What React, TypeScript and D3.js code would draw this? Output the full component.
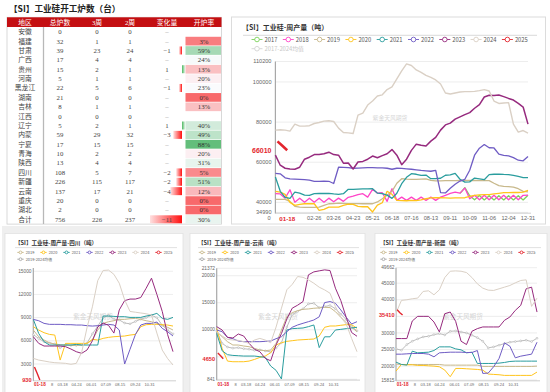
import React, { useRef, useEffect } from 'react';
import * as d3 from 'd3';

// ---------- table: 工业硅开工炉数 ----------
const regions = ['安徽', '福建', '甘肃', '广西', '贵州', '河南', '黑龙江', '湖南', '吉林', '江西', '辽宁', '内蒙', '宁夏', '青海', '陕西', '四川', '新疆', '云南', '重庆', '湖北', '合计'];
const totalFurnaces = [0, 32, 39, 17, 15, 5, 22, 21, 8, 0, 5, 59, 17, 10, 13, 108, 226, 137, 20, 2, 756];
const openWeek3 = [0, 1, 23, 4, 2, 1, 5, 0, 1, 0, 2, 29, 15, 2, 4, 5, 115, 17, 0, 0, 226];
const openWeek2 = [0, 1, 24, 4, 1, 1, 6, 0, 1, 0, 1, 32, 15, 2, 4, 7, 117, 21, 0, 0, 237];
const changes = [0, 0, -1, 0, 1, 0, -1, 0, 0, 0, 1, -3, 0, 0, 0, -2, -2, -4, 0, 0, -11];
const openRates = [null, 3, 59, 24, 13, 20, 23, 0, 13, null, 40, 49, 88, 20, 31, 5, 51, 12, 0, 0, 30];
const tableHeaders = ['地区', '总炉数', '3周', '2周', '变化量', '开炉率'];

// ---------- main chart: 周产量 (weekly, week 0..52) ----------
const mainYears = ['2017', '2018', '2019', '2020', '2021', '2022', '2023', '2024', '2025'];
const main2017Start = 38;
const main2017 = [44500, 47300, 43300, 41300, 43400, 41200, 43300, 41200, 43300, 41200, 43300, 41200, 43300, 41200, 43500];
const main2018 = [44300, 44200, 42100, 46300, 40100, 42100, 40100, 42100, 40100, 42100,
  40100, 42100, 40300, 42100, 40500, 42500, 43100, 43800, 44300, 42600,
  46500, 44600, 44800, 40500, 46800, 41000, 42600, 41000, 42600, 41000,
  42600, 41000, 42600, 41000, 42600, 43500, 44500, 45100, 44600, 47100,
  41800, 43500, 41300, 43500, 41300, 43500, 41300, 43500, 41300, 43500,
  41300, 43500, 43600];
const main2019 = [41500, 41500, 41500, 40500, 38000, 37600, 37500, 37500, 37500, 37600,
  38500, 39300, 39400, 39600, 39500, 39400, 39400, 39400, 39300, 39300,
  39300, 40200, 41800, 43500, 45500, 49500, 51800, 51600, 51500, 51500,
  51600, 51700, 51000, 50700, 50700, 50800, 50800, 50800, 50900, 50900,
  50900, 50900, 50800, 50800, 50800, 49500, 48300, 48000, 47800, 47600,
  46800, 45500, 45200];
const main2020 = [45500, 45100, 44000, 40000, 38500, 39000, 39300, 39300, 39300, 36000,
  36500, 37600, 37600, 37600, 38500, 39100, 39000, 38000, 37800, 37800,
  35200, 38600, 39800, 45500, 44000, 41000, 40900, 40800, 41000, 40900,
  41200, 41800, 42200, 42300, 42300, 42200, 42100, 42200, 42200, 42300,
  43000, 43500, 43700, 43800, 43800, 44200, 44500, 44800, 44800, 44900,
  44900, 45100, 46000];
const main2021 = [52600, 45500, 42500, 42000, 45100, 44600, 43600, 43500, 44300, 44400,
  44400, 44500, 44200, 44000, 44300, 46500, 46500, 46600, 46700, 46700,
  46800, 44600, 44300, 43600, 42000, 44500, 49300, 52500, 54300, 54000,
  53400, 53600, 51800, 51800, 52000, 53500, 53700, 54400, 51500, 50100,
  50200, 52100, 51700, 51300, 53800, 54000, 54100, 53900, 53800, 53400,
  52900, 52300, 52300];
const main2022 = [54400, 54200, 52200, 51700, 51600, 51500, 51300, 51100, 50500, 50500,
  50600, 50500, 49400, 57500, 57400, 57300, 57000, 57100, 57200, 57300,
  57300, 57200, 57200, 57000, 56500, 57000, 56900, 56700, 56500, 56200,
  55900, 55700, 55500, 55900, 44800, 44700, 47000, 49000, 50600, 51500,
  56000, 63500, 67000, 68800, 67200, 67100, 64000, 63400, 63200, 62300,
  61000, 60700, 62900];
const main2023 = [63500, 58500, 57000, 56600, 56500, 57500, 61500, 62500, 63800, 63800,
  64200, 65000, 63800, 63500, 59500, 59600, 56600, 60100, 60400, 61500,
  63100, 62200, 63300, 64200, 66300, 63500, 58800, 61500, 65900, 69000,
  68500, 68100, 70500, 72400, 76000, 78600, 79500, 81500, 82600, 83700,
  84700, 86900, 88700, 92500, 93400, 93200, 93500, 92700, 91800, 91000,
  89300, 87500, 79000];
const main2024 = [76000, 76200, 76000, 75500, 79000, 78000, 78000, 78200, 79300, 79800,
  80500, 80700, 80300, 77000, 74800, 74600, 74300, 83500, 84500, 88500,
  90500, 93000, 93600, 96200, 97500, 101500, 105500, 109000, 108200, 106000,
  104800, 103300, 102300, 101000, 99000, 94500, 94000, 94500, 95000, 95200,
  95200, 95300, 95700, 96200, 95500, 90500, 89300, 89500, 89700, 79000,
  75000, 75800, 74500];
const weeks2025 = [0.43, 1.43, 2.43];
const main2025 = [70400, 68200, 66010];
const mainYTicks = [110200, 100000, 80000, 60000, 40000, 34990];
// the first two labels are mostly hidden behind the red 01-18 marker in the picture
const mainXTickWeeks = [-1.3, 8, 12, 16, 20, 24, 28, 32, 36, 40, 44, 48, 52];
const mainXTickLabels = ['0', '02-26', '03-26', '04-23', '05-21', '06-18', '07-16', '08-13', '09-11', '10-09', '11-06', '12-04', '12-31'];

// ---------- small charts (every second week, week 0..52) ----------
const smallYears = ['2019', '2020', '2021', '2022', '2023', '2024', '2025'];
const smallXTickWeeks = [7, 10.9, 16.1, 21.6, 27, 32.3, 38, 43.3];
const smallXTickLabels = ['8', '03-18', '04-24', '06-01', '07-09', '08-15', '09-24', '10-31'];

// 四川
const sc2019 = [7395, 6530, 6100, 5755, 5585, 5500, 5455, 5410, 5410, 5455, 5670, 6100, 7395, 8255, 8470, 8600, 8775, 8775, 8860, 8900, 8775, 8600, 8470, 8255, 8040, 7740, 7395];
const sc2020 = [7825, 7395, 7050, 6830, 6745, 3510, 5670, 5670, 5670, 5670, 5670, 6190, 6100, 6315, 6445, 6530, 6575, 6620, 6745, 6830, 7825, 8085, 8130, 8130, 8085, 8040, 7910];
const sc2021 = [8775, 6960, 5885, 5455, 5455, 5455, 5455, 5455, 5540, 5455, 5455, 5455, 5455, 9205, 9205, 9160, 9120, 9120, 9030, 9030, 9030, 9205, 9335, 9550, 8905, 8775, 9030];
const sc2022 = [8775, 8600, 8255, 8130, 8130, 8130, 8085, 8085, 8040, 8040, 7955, 7910, 7955, 8040, 8130, 8040, 7395, 3000, 4900, 6800, 8040, 8255, 8255, 8430, 7610, 7180, 6620];
const sc2023 = [6530, 5670, 5325, 5325, 5325, 5325, 5240, 4940, 4590, 4380, 4810, 6000, 7800, 8300, 8000, 7000, 10000, 11200, 11400, 11400, 11600, 12800, 14100, 12000, 9800, 6800, 4600];
const sc2024 = [3730, 3510, 3390, 3260, 3170, 3130, 3085, 2960, 3085, 4500, 7700, 10400, 13800, 15100, 15150, 14600, 13450, 11300, 9800, 9700, 9600, 9500, 9340, 7000, 4800, 3700, 2870];
const scMean = [6800, 6300, 5900, 5700, 5600, 5100, 5500, 5400, 5400, 5500, 5700, 6900, 7900, 9000, 9300, 8800, 8700, 8300, 8200, 8500, 8800, 9000, 9300, 9000, 8000, 7400, 6900];
const sc2025 = [2600, 1800, 930];

// 云南
const yn2019 = [9650, 8720, 7800, 7180, 7180, 7000, 6870, 6560, 6250, 6130, 6250, 7490, 9960, 12430, 13170, 13540, 13790, 13850, 13980, 14050, 14160, 14100, 13360, 12310, 11320, 10460, 9650];
const yn2020 = [10270, 6560, 4210, 4090, 4090, 4090, 4210, 4520, 4890, 5140, 5760, 7180, 7610, 7860, 7980, 8110, 8170, 8230, 8290, 8850, 10460, 10700, 10700, 10830, 10950, 10950, 10270];
const yn2021 = [9340, 6130, 5390, 5260, 5200, 5140, 5140, 5140, 5020, 4900, 3300, 2500, 900, 9960, 10210, 10270, 10330, 10580, 10890, 6700, 8700, 8700, 9960, 10080, 10210, 10330, 10460];
const yn2022 = [9960, 9650, 8600, 8350, 7920, 7800, 7800, 7800, 7800, 7860, 7920, 8350, 8720, 9650, 10460, 10890, 11200, 11500, 11810, 12400, 15030, 15220, 14900, 13670, 12310, 11070, 11500];
const yn2023 = [10580, 9960, 8600, 8480, 9220, 8850, 7500, 6400, 5940, 4710, 4270, 7200, 9300, 12000, 14000, 14550, 15220, 20160, 20710, 20900, 21080, 20960, 17700, 15400, 12300, 9500, 8800];
const yn2024 = [9650, 8850, 8230, 8110, 8050, 7800, 7490, 8100, 8410, 8100, 7600, 10500, 14000, 17400, 18400, 19850, 19700, 19230, 18610, 17870, 17380, 16760, 14290, 12310, 11070, 8410, 5940];
const ynMean = [9800, 7500, 6800, 6600, 6700, 6500, 6400, 6200, 6300, 6100, 5900, 6600, 7600, 10500, 12800, 13400, 13900, 14800, 14900, 14100, 14300, 14500, 13900, 12900, 11900, 10600, 9800];
const yn2025 = [5700, 5200, 4650];

// 新疆
const xj2019 = [20600, 20500, 20500, 20500, 20500, 20500, 20500, 20500, 20500, 20300, 20300, 20300, 20300, 20300, 20300, 20300, 19900, 19900, 19900, 19900, 19900, 19900, 19900, 19900, 19900, 19900, 20000];
const xj2020 = [18500, 20500, 20400, 20400, 20200, 20200, 20100, 20000, 19800, 18800, 16800, 19300, 19300, 19200, 19100, 19000, 18800, 17600, 17500, 17400, 17200, 17200, 17200, 17200, 17200, 17200, 18200];
const xj2021 = [21200, 20500, 20300, 24500, 24000, 24100, 24200, 24700, 25800, 25800, 25800, 25200, 24900, 24000, 24200, 20800, 20800, 20800, 20800, 20900, 21100, 21400, 21500, 21500, 21500, 21500, 21500];
const xj2022 = [23600, 23600, 23700, 23800, 23800, 23800, 23600, 22800, 24000, 24100, 24200, 24200, 24200, 24100, 24100, 24700, 17800, 17900, 19800, 22300, 27000, 26000, 22500, 23000, 23300, 23600, 27200];
const xj2023 = [28300, 28300, 28300, 33600, 35000, 35000, 35000, 33300, 30300, 35800, 36300, 33500, 27500, 26500, 30500, 31300, 31800, 31800, 31800, 31800, 33800, 34800, 36800, 38300, 43300, 43800, 36300];
const xj2024 = [36000, 39800, 40000, 40300, 40500, 42500, 42700, 41500, 43000, 46700, 48600, 48700, 48600, 48200, 46700, 44800, 43500, 42900, 42800, 43300, 43800, 44300, 45100, 45800, 46000, 38000, 40500];
const xjMean = [25200, 24800, 26500, 27500, 28200, 28800, 29000, 29500, 29800, 29400, 30500, 30600, 30300, 30000, 29300, 28600, 27500, 25500, 25800, 26300, 26800, 27200, 27400, 27600, 27800, 27400, 28400];
const xj2025 = [37000, 36100, 35410];

const yearColors: Record<string, string> = {
  '2017': '#7cd35a', '2018': '#ff45c8', '2019': '#c8b98c', '2020': '#ffc41c', '2021': '#2a9d9e',
  '2022': '#6f5cc4', '2023': '#962a7e', '2024': '#dad0c5', '2025': '#e3262e',
};
const MEAN_COLOR = '#b4b4b4';
const RED = '#e3262e';
const CJK = "'Noto Sans CJK SC', sans-serif";
const SANS = "'Liberation Sans', Arial, sans-serif";
const SERIF = "'Liberation Serif', 'Noto Sans CJK SC', serif";

const drawLegend = (svg, items, x0, step, y, font, half, r) => {
  items.forEach((it, i) => {
    const cx = x0 + i * step;
    svg.append('line').attr('x1', cx - half).attr('x2', cx + half).attr('y1', y).attr('y2', y)
      .attr('stroke', it.color).attr('stroke-width', 0.9);
    svg.append('circle').attr('cx', cx).attr('cy', y).attr('r', r)
      .attr('fill', '#fff').attr('stroke', it.color).attr('stroke-width', 0.9);
    svg.append('text').attr('x', cx + half + 2).attr('y', y).attr('dy', '0.36em')
      .attr('font-family', CJK).attr('font-size', font).attr('fill', it.text || '#555').text(it.label);
  });
};

const drawPanel = (svg, c) => {
  const g = svg.append('g');
  const x = d3.scaleLinear().domain([0, 52]).range([c.x0, c.x1]);
  const y = d3.scaleLinear().domain(c.domain).range([c.yBottom, c.yTop]);

  g.selectAll(null).data(c.yTicks).join('line')
    .attr('x1', c.x0).attr('x2', c.x1).attr('y1', d => y(d)).attr('y2', d => y(d))
    .attr('stroke', '#e8e8e8').attr('stroke-width', 0.8);
  g.selectAll(null).data(c.yLabels).join('text')
    .attr('x', c.yLabelX).attr('y', d => y(d)).attr('dy', '0.35em').attr('text-anchor', 'end')
    .attr('font-family', SANS).attr('font-size', c.yFont).attr('fill', '#666').text(d => d);

  g.append('text').attr('x', c.wm.x).attr('y', c.wm.y).attr('text-anchor', 'middle').attr('dy', '0.35em')
    .attr('font-family', CJK).attr('font-size', c.wm.size).attr('fill', '#d6d6d6').text('紫金天风期货');

  g.append('line').attr('x1', c.x0).attr('x2', c.x0).attr('y1', c.yTop).attr('y2', c.yBottom + 1)
    .attr('stroke', '#a8a8a8').attr('stroke-width', 1.2);
  g.append('line').attr('x1', c.x0).attr('x2', c.x1 + 3).attr('y1', c.yBottom + 0.8).attr('y2', c.yBottom + 0.8)
    .attr('stroke', '#c4c4c4').attr('stroke-width', 0.8);

  const line = d3.line().x(d => x(d[0])).y(d => y(d[1]));
  c.series.forEach(s => {
    const pts = s.weeks.map((w, i) => [w, s.values[i]]);
    g.append('path').attr('d', line(pts)).attr('fill', 'none').attr('stroke', s.color)
      .attr('stroke-width', s.width).attr('stroke-linejoin', 'round');
    if (s.markers) {
      g.selectAll(null).data(pts).join('circle')
        .attr('cx', d => x(d[0])).attr('cy', d => y(d[1])).attr('r', s.markers)
        .attr('fill', '#fff').attr('stroke', s.color).attr('stroke-width', 0.6);
    }
  });

  g.selectAll(null).data(c.xTicks).join('text')
    .attr('x', (d, i) => x(c.xTickWeeks[i])).attr('y', c.xLabelY).attr('text-anchor', 'middle')
    .attr('font-family', SANS).attr('font-size', c.xFont).attr('fill', '#666').text(d => d);

  // latest date label on the x axis
  const lx = x(c.latestWeek);
  g.append('text').attr('x', lx).attr('y', c.xLabelY + 0.3).attr('text-anchor', 'middle')
    .attr('font-family', SANS).attr('font-weight', 'bold').attr('font-size', c.latestFont).attr('fill', RED)
    .text(c.latestLabel);

  // latest value label on the y axis
  const vy = y(c.latestValue);
  const vt = String(c.latestValue);
  const vw = vt.length * c.valueFont * 0.6;
  g.append('rect').attr('x', c.yLabelX - vw - 1.5).attr('y', vy - c.valueFont * 0.65).attr('width', vw + 2.5)
    .attr('height', c.valueFont * 1.3).attr('fill', '#fff');
  g.append('text').attr('x', c.yLabelX).attr('y', vy).attr('dy', '0.36em').attr('text-anchor', 'end')
    .attr('font-family', SANS).attr('font-weight', 'bold').attr('font-size', c.valueFont).attr('fill', RED).text(vt);
};

const App = () => {
  const svgRef = useRef(null);

  useEffect(() => {
    const svg = d3.select(svgRef.current);
    svg.selectAll('*').remove();
    svg.append('rect').attr('width', 550).attr('height', 392).attr('fill', '#fff');

    const defs = svg.append('defs');
    const neg = defs.append('linearGradient').attr('id', 'negGrad');
    neg.append('stop').attr('offset', 0).attr('stop-color', '#ffe0e0');
    neg.append('stop').attr('offset', 1).attr('stop-color', '#ff1010');
    const pos = defs.append('linearGradient').attr('id', 'posGrad');
    pos.append('stop').attr('offset', 0).attr('stop-color', '#4cb860');
    pos.append('stop').attr('offset', 1).attr('stop-color', '#d5eedb');

    // ---------- table ----------
    svg.append('text').attr('x', 9).attr('y', 12).attr('font-family', CJK).attr('font-size', 8.6)
      .attr('font-weight', 'bold').attr('fill', '#222').text('【SI】工业硅开工炉数（台）');

    const colX = [25, 60, 97, 130, 167, 204];
    const rowY = d3.scaleLinear().domain([0, 20]).range([31.7, 219.3]);
    const barX = d3.scaleLinear().domain([-11, 0]).range([150, 182]);
    const rateColor = d3.scaleLinear().domain([0, 22, 88]).range(['#f8696b', '#fcfcff', '#63be7b']);

    svg.append('rect').attr('x', 7).attr('y', 17.3).attr('width', 214.5).attr('height', 206.8)
      .attr('fill', '#fff').attr('stroke', '#cfcfcf').attr('stroke-width', 0.8);
    svg.append('rect').attr('x', 7).attr('y', 17.3).attr('width', 214.5).attr('height', 9.7).attr('fill', '#c40f12');
    tableHeaders.forEach((h, i) => {
      svg.append('text').attr('x', colX[i]).attr('y', 22.2).attr('dy', '0.36em').attr('text-anchor', 'middle')
        .attr('font-family', SERIF).attr('font-size', 6.8).attr('fill', '#fff').text(h);
    });
    svg.append('line').attr('x1', 43.5).attr('x2', 43.5).attr('y1', 27).attr('y2', 224)
      .attr('stroke', '#b8b8b8').attr('stroke-width', 1.3);

    regions.forEach((r, i) => {
      const cy = rowY(i);
      const cells = [r, totalFurnaces[i], openWeek3[i], openWeek2[i]];
      cells.forEach((v, j) => {
        svg.append('text').attr('x', colX[j]).attr('y', cy).attr('dy', '0.36em').attr('text-anchor', 'middle')
          .attr('font-family', SERIF).attr('font-size', 6.8).attr('fill', '#444').text(v);
      });
      const ch = changes[i];
      if (ch !== 0) {
        const x0 = Math.min(barX(ch), barX(0));
        svg.append('rect').attr('x', x0).attr('y', cy - 4).attr('width', Math.abs(barX(ch) - barX(0)))
          .attr('height', 8).attr('fill', ch < 0 ? 'url(#negGrad)' : 'url(#posGrad)');
      }
      svg.append('text').attr('x', colX[4]).attr('y', cy).attr('dy', '0.36em').attr('text-anchor', 'middle')
        .attr('font-family', SERIF).attr('font-size', 6.8).attr('fill', ch === 0 ? '#999' : '#444')
        .text(ch === 0 ? '–' : (ch < 0 ? '−' + Math.abs(ch) : String(ch)));
      const rate = openRates[i];
      if (rate !== null) {
        svg.append('rect').attr('x', 185.5).attr('y', cy - 4.3).attr('width', 35.5).attr('height', 8.7)
          .attr('fill', rateColor(rate));
        svg.append('text').attr('x', colX[5]).attr('y', cy).attr('dy', '0.36em').attr('text-anchor', 'middle')
          .attr('font-family', SERIF).attr('font-size', 6.8).attr('fill', '#333').text(rate + '%');
      }
    });

    // ---------- main chart ----------
    svg.append('rect').attr('x', 231.5).attr('y', 17).attr('width', 314).attr('height', 207)
      .attr('fill', '#fff').attr('stroke', '#dcdcdc').attr('stroke-width', 1);
    svg.append('text').attr('x', 242).attr('y', 29.5).attr('font-family', CJK).attr('font-size', 7)
      .attr('font-weight', 'bold').attr('fill', '#333').text('【SI】工业硅-周产量（吨）');
    svg.append('line').attr('x1', 243).attr('x2', 537).attr('y1', 35.3).attr('y2', 35.3)
      .attr('stroke', '#d0d0d0').attr('stroke-width', 0.8);
    drawLegend(svg, mainYears.map(yr => ({ label: yr, color: yearColors[yr] })), 257, 31.3, 39.5, 5.8, 5.5, 2.3);
    drawLegend(svg, [{ label: '2017-2024均值', color: '#d4d4d4', text: '#c8c8c8' }], 257, 0, 48.7, 5.8, 5.5, 2.3);

    const wk = d3.range(53);
    const mainSeries = [
      { color: yearColors['2017'], weeks: d3.range(main2017Start, 53), values: main2017, width: 1.3 },
      { color: yearColors['2018'], weeks: wk, values: main2018, width: 1.3 },
      { color: yearColors['2019'], weeks: wk, values: main2019, width: 1.3 },
      { color: yearColors['2020'], weeks: wk, values: main2020, width: 1.3 },
      { color: yearColors['2021'], weeks: wk, values: main2021, width: 1.3 },
      { color: yearColors['2022'], weeks: wk, values: main2022, width: 1.3 },
      { color: yearColors['2023'], weeks: wk, values: main2023, width: 1.5 },
      { color: yearColors['2024'], weeks: wk, values: main2024, width: 1.4 },
      { color: yearColors['2025'], weeks: weeks2025, values: main2025, width: 2.6 },
    ];
    drawPanel(svg, {
      x0: 275.4, x1: 528, yTop: 61.5, yBottom: 212.4, domain: [34990, 110200],
      yTicks: mainYTicks, yLabels: mainYTicks, yLabelX: 271.5, yFont: 5.6,
      xTicks: mainXTickLabels, xTickWeeks: mainXTickWeeks, xLabelY: 220.3, xFont: 5.6,
      series: mainSeries, latestWeek: 2.43, latestLabel: '01-18', latestFont: 6.2,
      latestValue: 66010, valueFont: 7, wm: { x: 390, y: 118, size: 5.8 },
    });

    // ---------- small charts ----------
    svg.append('rect').attr('x', 2).attr('y', 226).attr('width', 548).attr('height', 166).attr('fill', '#efefef');
    const panels = [
      { bx: 5, bw: 178, tx: 15, title: '【SI】工业硅-周产量-四川（吨）', legX: 20.5,
        x0: 33.3, x1: 173, yTop: 268, yBottom: 380, domain: [930, 15420],
        yTicks: [15000, 12000, 9000, 6000, 3000], yLabels: [15000, 12000, 9000, 6000, 3000], yLabelX: 31.5,
        data: [sc2019, sc2020, sc2021, sc2022, sc2023, sc2024], mean: scMean, last: sc2025, wm: 93 },
      { bx: 190, bw: 175, tx: 198, title: '【SI】工业硅-周产量-云南（吨）', legX: 202,
        x0: 216.7, x1: 357, yTop: 268.3, yBottom: 379.3, domain: [841, 21372],
        yTicks: [21372, 20000, 15000, 10000, 5000, 841], yLabels: [21372, 20000, 15000, 10000, 841], yLabelX: 215,
        data: [yn2019, yn2020, yn2021, yn2022, yn2023, yn2024], mean: ynMean, last: yn2025, wm: 278 },
      { bx: 375, bw: 172, tx: 380, title: '【SI】工业硅-周产量-新疆（吨）', legX: 383.5,
        x0: 396, x1: 537, yTop: 267.7, yBottom: 380, domain: [15815, 49662],
        yTicks: [49662, 45000, 40000, 35000, 30000, 25000, 20000, 15815],
        yLabels: [49662, 45000, 40000, 30000, 25000, 20000, 15815], yLabelX: 394.5,
        data: [xj2019, xj2020, xj2021, xj2022, xj2023, xj2024], mean: xjMean, last: xj2025, wm: 463 },
    ];
    const wk2 = d3.range(0, 53, 2);
    panels.forEach(p => {
      svg.append('rect').attr('x', p.bx).attr('y', 233.5).attr('width', p.bw).attr('height', 160)
        .attr('fill', '#fff').attr('stroke', '#e2e2e2').attr('stroke-width', 0.8);
      svg.append('text').attr('x', p.tx).attr('y', 245.3).attr('font-family', CJK).attr('font-size', 5.6)
        .attr('font-weight', 'bold').attr('fill', '#333').text(p.title);
      svg.append('line').attr('x1', p.tx).attr('x2', p.bx + p.bw - 6).attr('y1', 247.6).attr('y2', 247.6)
        .attr('stroke', '#d4d4d4').attr('stroke-width', 0.7);
      drawLegend(svg, smallYears.map(yr => ({ label: yr, color: yearColors[yr] })), p.legX, 23, 252.4, 3.9, 3.2, 1.4);
      drawLegend(svg, [{ label: '2019-2024均值', color: '#a8a8a8', text: '#666' }], p.legX, 0, 259.2, 3.9, 3.2, 1.4);

      const series = smallYears.slice(0, 6).map((yr, i) => ({
        color: yearColors[yr], weeks: wk2, values: p.data[i], width: 1.0,
      }));
      series.splice(0, 0, { color: MEAN_COLOR, weeks: wk2, values: p.mean, width: 0.9, markers: 0.9 });
      series.push({ color: RED, weeks: weeks2025, values: p.last, width: 1.4 });
      drawPanel(svg, {
        x0: p.x0, x1: p.x1, yTop: p.yTop, yBottom: p.yBottom, domain: p.domain,
        yTicks: p.yTicks, yLabels: p.yLabels, yLabelX: p.yLabelX, yFont: 4.8,
        xTicks: smallXTickLabels, xTickWeeks: smallXTickWeeks, xLabelY: 386, xFont: 4,
        series, latestWeek: 2.43, latestLabel: '01-18', latestFont: 4.6,
        latestValue: p.last[p.last.length - 1], valueFont: 5.6, wm: { x: p.wm, y: 317, size: 6.6 },
      });
    });
  }, []);

  return <svg ref={svgRef} width={550} height={392} style={{ position: 'absolute', left: 0, top: 0, display: 'block' }} />;
};

export default App;
